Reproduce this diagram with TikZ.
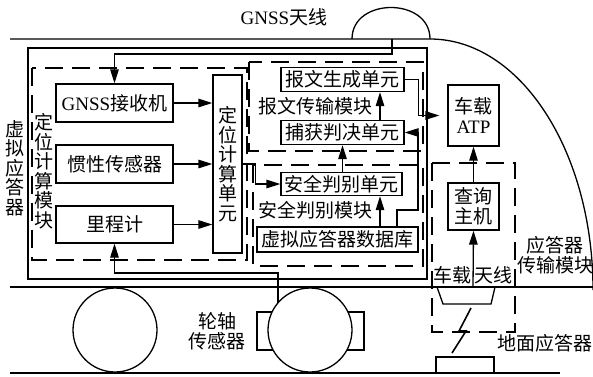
\documentclass[tikz,border=0pt]{standalone}
\usepackage{fontspec}
\setmainfont{Liberation Serif}
\newfontfamily\cjk{Noto Sans CJK SC}
\usetikzlibrary{arrows.meta,calc}
\newcommand\lblfont{\fontsize{19}{19.5}\selectfont}
\begin{document}
\begin{tikzpicture}[x=1pt,y=-1pt,
  solidline/.style={line width=1.3pt},
  unit/.style={draw, line width=1.3pt, inner sep=0pt, font=\lblfont\cjk, align=center},
  lbl/.style={inner sep=0pt, font=\lblfont\cjk, align=center},
  arr/.style={line width=1.3pt, -{Triangle[length=14pt,width=8.5pt]}},
  module/.style={line width=1.3pt, dash pattern=on 18pt off 9pt}
]
\useasboundingbox (0,0) rectangle (593,376);

% train body: roof, GNSS dome, nose curve, floor, rail
\draw[solidline] (10,39) -- (430,39)
  .. controls (520,39) and (593,151) .. (593,290);
\draw[solidline] (352,39) .. controls (352,-3) and (430,-3) .. (430,39);
\draw[solidline] (10,287) -- (593,287);
\draw[solidline] (10,373) -- (560,373);
\coordinate (gnssant) at (392,39);
\node[lbl] (gnsslbl) at (284,17) {{\rmfamily GNSS}天线};

% virtual balise frame
\draw[solidline] (28,48) rectangle (427,279);
\node[lbl] (vblbl) at (15,168) {虚\\拟\\应\\答\\器};

% positioning module
\draw[module] (32,68) rectangle (247,260);
\node[lbl] (poslbl) at (44,171) {定\\位\\计\\算\\模\\块};
\node[unit, minimum width=117, minimum height=38] (gnss) at (114.5,103) {{\rmfamily GNSS}接收机};
\node[unit, minimum width=117, minimum height=38] (ins) at (114.5,164) {惯性传感器};
\node[unit, minimum width=117, minimum height=37] (odo) at (114.5,224.5) {里程计};
\node[unit, minimum width=29, minimum height=178] (pcu) at (227.5,164) {定\\位\\计\\算\\单\\元};

% message transmission module
\draw[module] (249,62) rectangle (423,151);
\node[unit, minimum width=123, minimum height=24] (msg) at (342.5,79.5) {报文生成单元};
\node[lbl] (msglbl) at (315,106) {报文传输模块};
\node[unit, minimum width=123, minimum height=24] (cap) at (342.5,132.5) {捕获判决单元};

% safety module
\draw[module] (253,165) rectangle (423,266);
\node[unit, minimum width=121, minimum height=23] (safe) at (341.5,184) {安全判别单元};
\node[lbl] (safelbl) at (315,210) {安全判别模块};
\node[unit, minimum width=161, minimum height=25] (db) at (337.5,239.5) {虚拟应答器数据库};

% onboard ATP and balise transmission module
\node[unit, minimum width=51, minimum height=61] (atp) at (473.5,115.5) {车载\\{\rmfamily ATP}};
\draw[module] (432,163) rectangle (515,332);
\node[unit, minimum width=51, minimum height=47] (query) at (473.5,206.5) {查询\\主机};
\node[lbl] (tmlbl) at (555,255) {应答器\\传输模块};
\node[lbl] (antlbl1) at (452,275) {车载};
\node[lbl] (antlbl2) at (493,275) {天线};
\draw[solidline] (437,287) -- (495,287) -- (491,304) -- (443,304) -- cycle;
\coordinate (antc) at (473,287);
\draw[line width=1.6pt, line join=miter] (471,308) -- (459,331) -- (466,331) -- (452,353);
\node[draw, line width=1.3pt, inner sep=0pt, minimum width=58, minimum height=16] (gb) at (465,365) {};
\node[lbl] (gblbl) at (545,343) {地面应答器};

% wheels and axle sensor
\node[draw, line width=1.3pt, inner sep=0pt, minimum width=107, minimum height=38] (sensor) at (310.5,331) {};
\coordinate (otap) at (278,312);
\draw[arr] (otap) -- ++(0,-39) -| (odo.south);
\draw[solidline, fill=white] (115,330) circle[radius=42];
\draw[solidline, fill=white] (310,330) circle[radius=42];
\node[lbl] (senslbl) at (217,331) {轮轴\\传感器};

% signal flow
\draw[arr] (gnssant) -- (392,54) -| (gnss.north);
\draw[arr] (gnss.east) -- (gnss.east -| pcu.west);
\draw[arr] (ins.east) -- (ins.east -| pcu.west);
\draw[arr] (odo.east) -- (odo.east -| pcu.west);
\draw[arr] (pcu.east) -- ++(13,0) |- (safe.west);
\draw[arr] (safe.north -| cap.south) -- (cap.south);
\draw[arr] ($(cap.north)+(37.5,0)$) -- ($(msg.south)+(37.5,0)$);
\draw[arr] ($(db.north)+(42.5,0)$) -- ($(safe.south)+(38.5,0)$);
\coordinate (dbtap) at ($(db.north)+(59.5,0)$);
\coordinate (bus) at (418,210);
\draw[arr] (dbtap) |- (bus) |- (cap.east);
\draw[arr, shorten >=8pt] (msg.east) -- ++(14,0) |- (atp.west);
\draw[arr] (query.north) -- (atp.south);
\draw[arr] (antc) -- (query.south);
\end{tikzpicture}
\end{document}
